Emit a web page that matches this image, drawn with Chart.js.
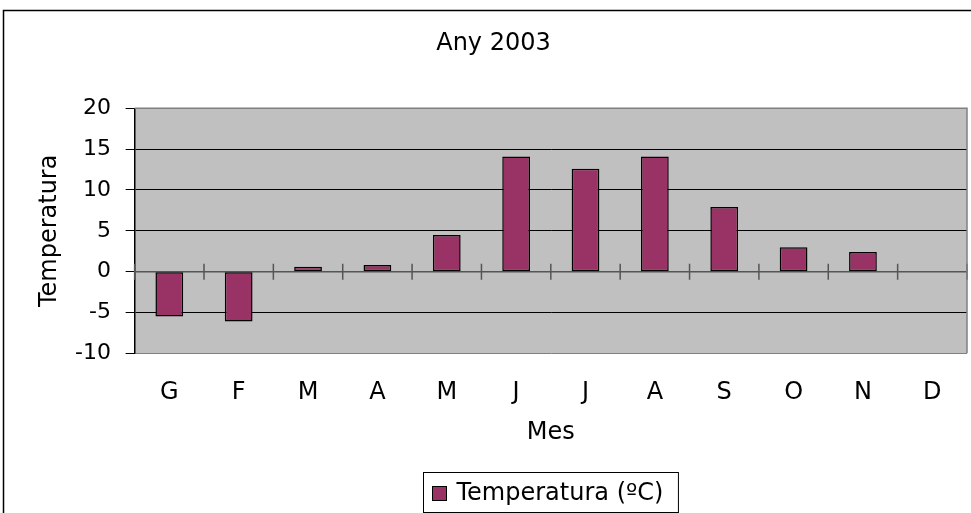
<html lang="ca">
<head>
  <meta charset="utf-8">
  <title>Any 2003</title>
  <script src="https://cdn.jsdelivr.net/npm/chart.js@4/dist/chart.umd.min.js"></script>
  <style>body{margin:0;background:#fff} canvas{display:block}</style>
</head>
<body>
<canvas id="bar" width="971" height="513"></canvas>

<script>
// dades llegides del grafic
var mesos = ['G','F','M','A','M','J','J','A','S','O','N','D'];
var temperatura = [-5.5, -6.1, 0.6, 0.8, 4.5, 14.1, 12.6, 14.1, 7.9, 3.0, 2.4, null];
var yTicks = [-10, -5, 0, 5, 10, 15, 20];
var titol = 'Any 2003';
var nomSerie = 'Temperatura (ºC)';

var FONT = 'DejaVu Sans';
var colorBarra = '#993366';

// fons, marc, linia del zero i llegenda
var excelLook = {
  id: 'excelLook',
  beforeDraw: function(chart) {
    var c = chart.ctx, a = chart.chartArea;
    c.save();
    c.fillStyle = '#fff';
    c.fillRect(0, 0, chart.width, chart.height);
    c.fillStyle = '#c0c0c0';
    c.fillRect(a.left, a.top, a.right - a.left, a.bottom - a.top);
    c.strokeStyle = '#000';
    c.lineWidth = 1.5;
    c.beginPath();
    c.moveTo(3.5, chart.height);
    c.lineTo(3.5, 10.5);
    c.lineTo(chart.width, 10.5);
    c.stroke();
    c.restore();
  },
  beforeDatasetsDraw: function(chart) {
    var c = chart.ctx, a = chart.chartArea;
    var x = chart.scales.x, y0 = chart.scales.y.getPixelForValue(0);
    c.save();
    c.strokeStyle = '#555';
    c.lineWidth = 1.5;
    c.beginPath();
    c.moveTo(a.left, y0); c.lineTo(a.right, y0);
    for (var i = 0; i <= mesos.length; i++) {
      var px;
      if (i === 0) px = a.left;
      else if (i === mesos.length) px = a.right;
      else px = (x.getPixelForValue(i - 1) + x.getPixelForValue(i)) / 2;
      c.moveTo(px, y0 - 8); c.lineTo(px, y0 + 8);
    }
    c.stroke();
    c.restore();
  },
  afterDraw: function(chart) {
    var c = chart.ctx, a = chart.chartArea;
    c.save();
    c.strokeStyle = '#808080';
    c.lineWidth = 1.5;
    c.beginPath();
    c.moveTo(a.left, a.top); c.lineTo(a.right, a.top); c.lineTo(a.right, a.bottom);
    c.stroke();

    // llegenda
    c.font = '24px "' + FONT + '"';
    var tw = c.measureText(nomSerie).width;
    var w = 9 + 14 + 10 + tw + 15, h = 40;
    var cx = (a.left + a.right) / 2;
    var lx = Math.round(cx - w / 2) + 0.5, ly = 472.5;
    c.strokeStyle = '#000';
    c.lineWidth = 1;
    c.strokeRect(lx, ly, w, h);
    c.fillStyle = colorBarra;
    c.fillRect(lx + 9, ly + 14, 14, 14);
    c.strokeRect(lx + 9, ly + 14, 14, 14);
    c.fillStyle = '#000';
    c.textBaseline = 'middle';
    c.fillText(nomSerie, lx + 33, ly + h / 2 + 1);
    c.restore();
  }
};

var ctx = document.getElementById('bar').getContext('2d');
var chart = new Chart(ctx, {
  type: 'bar',
  data: {
    labels: mesos,
    datasets: [{
      label: nomSerie,
      data: temperatura,
      backgroundColor: colorBarra,
      borderColor: '#000',
      borderWidth: 1.5,
      borderSkipped: false,
      barPercentage: 0.4,
      categoryPercentage: 1.0
    }]
  },
  options: {
    responsive: false,
    animation: false,
    devicePixelRatio: 1,
    layout: { padding: { left: 20, right: 4, top: 0, bottom: 62.3 } },
    plugins: {
      legend: { display: false },
      tooltip: { enabled: false },
      title: {
        display: true,
        text: titol,
        color: '#000',
        font: { family: FONT, size: 24, weight: 'normal' },
        padding: { top: 29, bottom: 50.5 }
      }
    },
    scales: {
      x: {
        offset: true,
        grid: { display: false },
        border: { display: false },
        ticks: { color: '#000', font: { family: FONT, size: 24 }, padding: 16.6, maxRotation: 0 },
        title: {
          display: true, text: 'Mes', color: '#000',
          font: { family: FONT, size: 24 },
          padding: { top: -5.4, bottom: 4 }
        }
      },
      y: {
        min: -10,
        max: 20,
        afterBuildTicks: function(scale) {
          scale.ticks = yTicks.map(function(v) { return { value: v }; });
        },
        grid: {
          color: function(c) {
            var v = c.tick ? c.tick.value : null;
            if (v === 0) return 'rgba(0,0,0,0)';
            if (v === 20 || v === -10) return '#808080';
            return '#000';
          },
          tickColor: '#000',
          tickLength: 9,
          lineWidth: 1
        },
        border: { color: '#000', width: 1.5 },
        ticks: { color: '#000', font: { family: FONT, size: 22 }, padding: 14.7 },
        title: {
          display: true, text: 'Temperatura', color: '#000',
          font: { family: FONT, size: 24 },
          padding: { top: 15.6, bottom: -4.1 }
        }
      }
    }
  },
  plugins: [excelLook]
});
</script>
</body>
</html>
